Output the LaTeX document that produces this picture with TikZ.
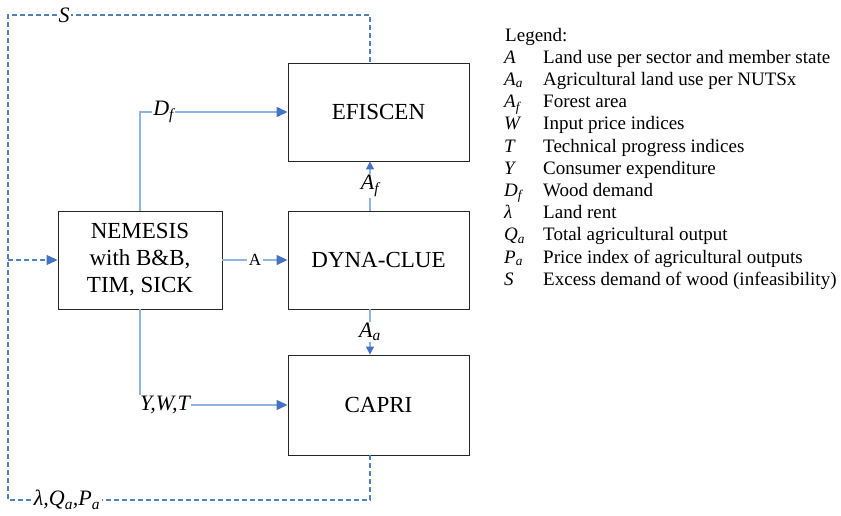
\documentclass[tikz,border=0pt]{standalone}
\usepackage{fontspec}
\setmainfont{Liberation Serif}
\usetikzlibrary{arrows.meta}
\definecolor{lineblue}{RGB}{141,180,226}
\definecolor{dashblue}{RGB}{79,129,189}
\definecolor{tipblue}{RGB}{68,114,196}
\newcommand\mysub[1]{\textsubscript{#1}}
\begin{document}
\begin{tikzpicture}[x=1pt,y=-1pt,
  box/.style={draw=black!85, line width=0.9pt, minimum width=181pt, minimum height=98pt,
    font=\fontsize{23}{27}\selectfont, align=center, inner sep=0pt},
  flow/.style={draw=lineblue, line width=1.4pt, -{Triangle[length=11pt,width=10pt,color=tipblue]}},
  smallflow/.style={draw=lineblue, line width=1.2pt, -{Triangle[length=8pt,width=8pt,color=tipblue]}},
  fb/.style={draw=dashblue, line width=1.1pt, dash pattern=on 5pt off 3pt},
  fbflow/.style={fb, -{Triangle[length=11pt,width=10pt,color=tipblue]}},
  lab/.style={fill=white, inner sep=1.5pt, font=\fontsize{22}{24}\selectfont\itshape},
  uplab/.style={fill=white, inner sep=1.5pt, font=\fontsize{17}{20}\selectfont},
  leg/.style={anchor=base west, inner sep=0pt, font=\fontsize{19}{22}\selectfont},
  legsym/.style={anchor=base west, inner sep=0pt, font=\fontsize{19}{22}\selectfont\itshape}
]
\useasboundingbox (0,0) rectangle (841,515);

% boxes
\node[box] (efi) at (378.5,112) {EFISCEN};
\node[box] (dyna) at (378.5,260) {DYNA-CLUE};
\node[box, minimum height=100pt] (capri) at (378.5,405) {CAPRI};
\node[box, minimum width=164pt] (nem) at (140,260) {NEMESIS\\with B\&B,\\TIM, SICK};

% helper coordinates
\coordinate (cx) at (370,0);
\coordinate (tl) at (8,15);
\coordinate (tr) at (370,15);
\coordinate (bl) at (8,500);
\coordinate (br) at (370,500);
\coordinate (jn) at (8,260);

% solid flows
\draw[flow] (nem.north) |- node[lab, pos=0.58] {D\mysub{f}} (efi.west);
\draw[flow] (nem.east) -- node[uplab] {A} (dyna.west);
\draw[smallflow] (cx |- dyna.north) -- node[lab] {A\mysub{f}} (cx |- efi.south);
\draw[smallflow] (cx |- dyna.south) -- node[lab] {A\mysub{a}} (cx |- capri.north);
\draw[flow] (nem.south) |- node[lab, pos=0.5, anchor=west, xshift=-2pt] {Y,W,T} (capri.west);

% feedback loop
\draw[fb] (cx |- capri.south) -- (br) -- node[lab, pos=0.837] {λ,Q\mysub{a},P\mysub{a}} (bl) -- (tl)
  -- node[lab, pos=0.155] {S} (tr) -- (cx |- efi.north);
\draw[fbflow] (jn) -- (nem.west);

% legend
\node[leg] (lg) at (505,41) {Legend:};
\foreach \i/\s/\t in {1/A/Land use per sector and member state,
  2/A\mysub{a}/Agricultural land use per NUTSx,
  3/A\mysub{f}/Forest area,
  4/W/Input price indices,
  5/T/Technical progress indices,
  6/Y/Consumer expenditure,
  7/D\mysub{f}/Wood demand,
  8/λ/Land rent,
  9/Q\mysub{a}/Total agricultural output,
  10/P\mysub{a}/Price index of agricultural outputs,
  11/S/Excess demand of wood (infeasibility)}{
  \node[legsym] (ls\i) at (504,41+22.2*\i) {\s};
  \node[leg] (lt\i) at (543,41+22.2*\i) {\t};
}
\end{tikzpicture}
\end{document}
